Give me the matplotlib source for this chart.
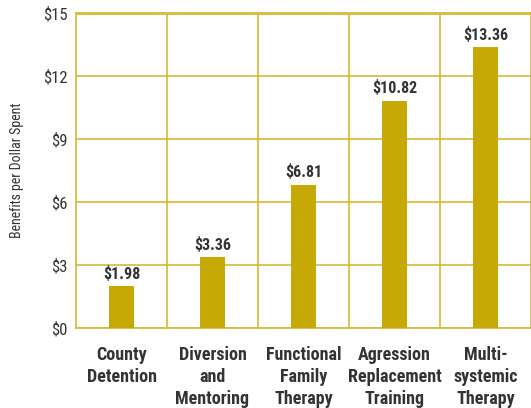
import matplotlib
matplotlib.use("Agg")
import matplotlib.pyplot as plt
from matplotlib import font_manager as fm

categories = ["County\nDetention", "Diversion\nand\nMentoring", "Functional\nFamily\nTherapy",
              "Agression\nReplacement\nTraining", "Multi-\nsystemic\nTherapy"]
values = [1.98, 3.36, 6.81, 10.82, 13.36]
value_labels = ["$1.98", "$3.36", "$6.81", "$10.82", "$13.36"]
yticks = [0, 3, 6, 9, 12, 15]
ytick_labels = ["$0", "$3", "$6", "$9", "$12", "$15"]

names = {f.name for f in fm.fontManager.ttflist}
fam = "DejaVu Sans"
for cand in ["Roboto Condensed", "Archivo Narrow", "PT Sans Narrow", "Barlow Condensed",
             "Liberation Sans Narrow", "Open Sans Condensed"]:
    if cand in names:
        fam = cand
        break
plt.rcParams['font.family'] = [fam, 'DejaVu Sans']

gold = "#D6BA33"
bar_color = "#C6A905"
text_color = "#333333"

fig = plt.figure(figsize=(5.31, 4.08), dpi=100)
ax = fig.add_axes([76/531, 80/408, 455/531, 315/408])

x = list(range(len(categories)))
ax.bar(x, values, width=0.28, color=bar_color, zorder=3)
for xi, v, lab in zip(x, values, value_labels):
    ax.text(xi, v + 0.22, lab, ha="center", va="bottom", fontsize=11.5,
            fontweight="bold", color=text_color)

ax.set_xlim(-0.5, len(categories) - 0.5)
ax.set_ylim(0, 15)
ax.set_yticks(yticks)
ax.set_yticklabels(ytick_labels, fontsize=12, color=text_color)
ax.set_xticks(x)
ax.set_xticklabels(categories, fontsize=13, fontweight="bold", color=text_color,
                   va="top", linespacing=1.3)
ax.tick_params(axis="both", length=0)
ax.tick_params(axis="x", pad=13)
ax.tick_params(axis="y", pad=6)

for xv in [0.5, 1.5, 2.5, 3.5]:
    ax.axvline(xv, color=gold, lw=1.2, zorder=1)
ax.yaxis.grid(True, color=gold, lw=1.2, zorder=1)
ax.set_axisbelow(True)
for s in ax.spines.values():
    s.set_color(gold)
    s.set_linewidth(1.2)
ax.spines["top"].set_linewidth(2)

ax.set_ylabel("Benefits per Dollar Spent", fontsize=10, color=text_color)
ax.yaxis.set_label_coords(-52/455, 0.5)

fig.savefig("out.png", dpi=100)
